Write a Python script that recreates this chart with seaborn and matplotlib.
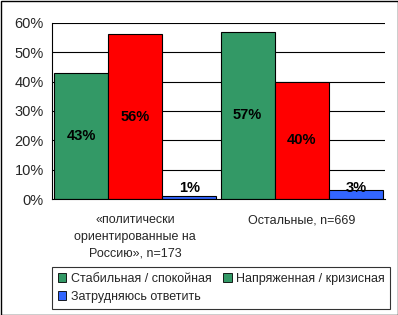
import matplotlib
matplotlib.use("Agg")
import matplotlib.pyplot as plt
import matplotlib.patches as mpatches
import seaborn as sns
import pandas as pd

categories = ["«политически\nориентированные на\nРоссию», n=173", "Остальные, n=669"]
series = ["Стабильная / спокойная", "Напряженная / кризисная", "Затрудняюсь ответить"]
stable = [43, 57]
tense = [56, 40]
unsure = [1, 3]
yticks = [0, 10, 20, 30, 40, 50, 60]

colors = ["#339966", "#FF0000", "#3366FF"]
legend_colors = ["#339966", "#339966", "#3366FF"]

rows = []
for i, c in enumerate(categories):
    for s, vals in zip(series, [stable, tense, unsure]):
        rows.append({"cat": c, "series": s, "value": vals[i]})
df = pd.DataFrame(rows)

sns.set_style("white")
plt.rcParams["font.family"] = ["Liberation Sans", "DejaVu Sans"]

fig = plt.figure(figsize=(3.98, 3.15), dpi=100)
ax = fig.add_axes([52/398, 1-199.3/315, 333/398, (199.3-22.7)/315])

sns.barplot(data=df, x="cat", y="value", hue="series", palette=colors,
            width=0.975, edgecolor="black", linewidth=0.8, ax=ax, legend=False,
            saturation=1, errorbar=None)

ax.set_ylim(0, 60)
ax.set_xlim(-0.5, 1.5)
ax.set_yticks(yticks)
ax.set_yticklabels([f"{v}%" for v in yticks], fontsize=10.5)
for v in yticks[1:]:
    ax.axhline(v, color="black", linewidth=0.8, zorder=0)
ax.set_xticks([-0.5, 0.5, 1.5])
ax.set_xticklabels([])
ax.tick_params(axis="both", direction="out", length=4, width=0.8, color="black")
ax.tick_params(axis="y", pad=2)
for side in ["top", "right"]:
    ax.spines[side].set_visible(False)
for side in ["left", "bottom"]:
    ax.spines[side].set_color("black")
    ax.spines[side].set_linewidth(0.8)
ax.set_xlabel("")
ax.set_ylabel("")

for i, c in enumerate(categories):
    ax.text(i, -5.0, c, ha="center", va="top", fontsize=9, linespacing=1.5)

label_font = ["Liberation Sans Narrow", "Liberation Sans", "DejaVu Sans"]
for cont, vals in zip(ax.containers, [stable, tense, unsure]):
    for bar, v in zip(cont, vals):
        xc = bar.get_x() + bar.get_width() / 2
        y = v / 2 if v >= 10 else 4.0
        ax.text(xc, y, f"{v}%", ha="center", va="center", fontsize=10.5,
                fontweight="bold", family=label_font, color="black")

handles = [mpatches.Patch(facecolor=legend_colors[k], edgecolor="black", linewidth=0.6, label=series[k])
           for k in range(3)]
order = [0, 2, 1]
leg = fig.legend([handles[k] for k in order], [series[k] for k in order],
                 loc="upper left", bbox_to_anchor=(52/398, 1-267/315),
                 ncol=2, fontsize=9, frameon=True, fancybox=False,
                 edgecolor="black", borderpad=0.45, handlelength=0.7, handleheight=0.7,
                 handletextpad=0.35, labelspacing=0.5, columnspacing=0.9, borderaxespad=0)
leg.get_frame().set_linewidth(0.8)

fig.patches.append(mpatches.Rectangle((0.5/398, 0.5/315), 1-1/398, 1-1/315, transform=fig.transFigure,
                                      fill=False, edgecolor="black", linewidth=1))

fig.savefig("out.png", dpi=100, facecolor="white")
